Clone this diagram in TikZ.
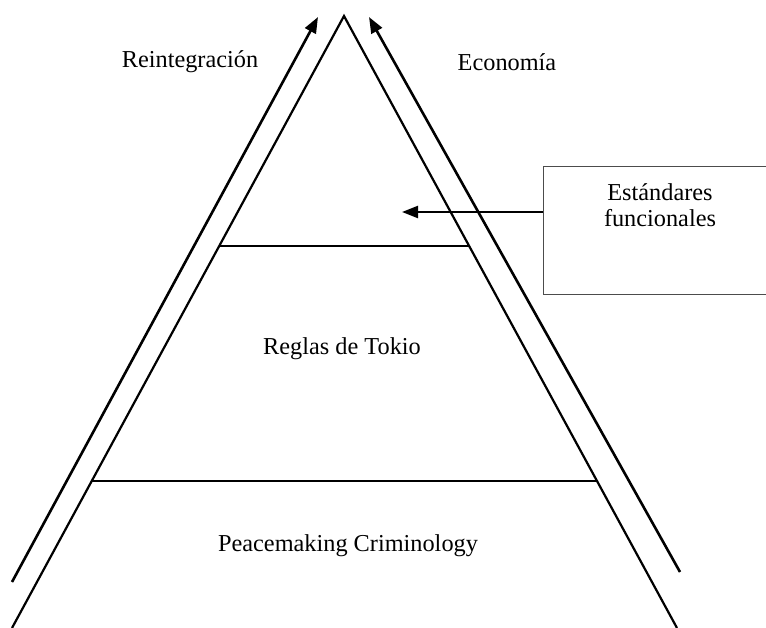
\documentclass[tikz,border=0pt]{standalone}
\usepackage{fontspec}
\setmainfont{Liberation Serif}
\usetikzlibrary{arrows.meta,calc,positioning}

\begin{document}
\begin{tikzpicture}[
        x=1pt,y=-1pt,
        side/.style={line width=2.2pt,black},
        band/.style={line width=2.2pt,black},
        push/.style={-{Triangle[length=16pt,width=12pt]},line width=2.6pt,black},
        lbl/.style={font=\fontsize{24.3}{26.5}\selectfont,inner sep=0pt},
        frame/.style={draw=black!70,line width=0.8pt,minimum width=234pt,
                      minimum height=128pt,inner sep=0pt}
      ]
        \useasboundingbox (0,0) rectangle (766,628);
        % pyramid
        \coordinate (apex) at (344,16);
        \coordinate (bl) at (12,628);
        \coordinate (br) at (677,628);
        \draw[side] (bl) -- (apex) -- (br);
        \coordinate (t1) at (219,246);
        \coordinate (t2) at (469,246);
        \coordinate (b1) at (92,481);
        \coordinate (b2) at (597,481);
        \draw[band] (t1) -- (t2);
        \draw[band] (b1) -- (b2);
        % side arrows
        \coordinate (rs) at (12,582);
        \coordinate (rt) at (318,17);
        \coordinate (es) at (680,572);
        \coordinate (et) at (369,17);
        \draw[push] (rs) -- (rt);
        \draw[push] (es) -- (et);
        \node[lbl] (reint) at (190,62) {Reintegración};
        \node[lbl] (econ) at (507,62) {Economía};
        \node[lbl] (tokio) at (342,349) {Reglas de Tokio};
        \node[lbl] (peace) at (348,546) {Peacemaking Criminology};
        % box on the right
        \node[frame,anchor=north west] (box) at (543,166) {};
        \node[lbl,align=center] (std) at (660,205) {Estándares\\funcionales};
        \coordinate (tip) at (402,212);
        \draw[push,line width=2.2pt] (box.west |- tip) -- (tip);
      \end{tikzpicture}
\end{document}
